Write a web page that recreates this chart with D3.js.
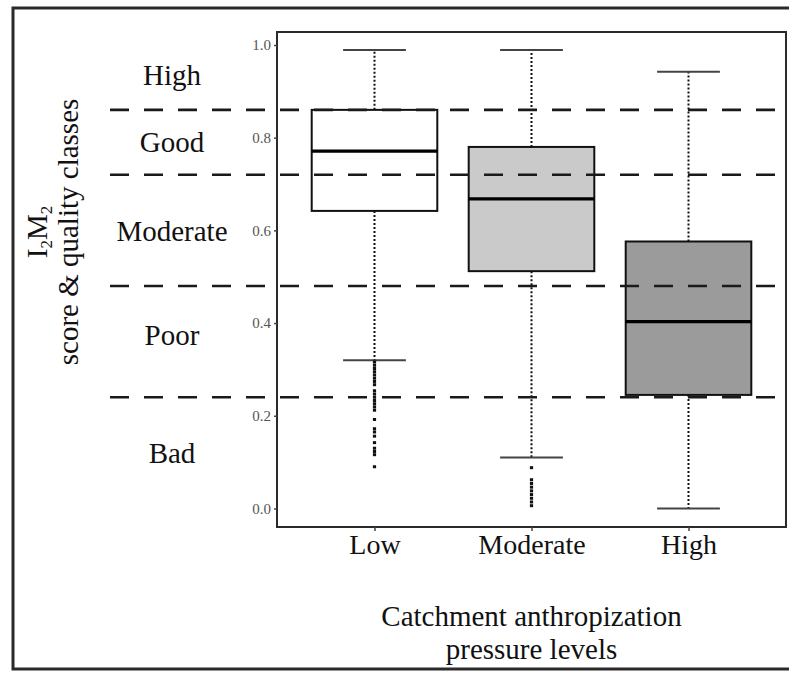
<!DOCTYPE html>
<html>
<head>
<meta charset="utf-8">
<script src="https://cdn.jsdelivr.net/npm/d3@7/dist/d3.min.js"></script>
<style>
  html, body { margin: 0; padding: 0; background: #fff; }
  svg { display: block; }
  text { font-family: "Liberation Serif", "Times New Roman", serif; fill: #111; }
</style>
</head>
<body>
<svg id="chart" width="789" height="675"></svg>
<script>
// Pressure levels on the x axis
const categories = ["Low", "Moderate", "High"];
// Box fills per level
const boxFills = ["#ffffff", "#cacaca", "#9b9b9b"];
// Five-number summaries per level
const whiskerLow  = [0.32, 0.11, 0.0];
const q1          = [0.642, 0.512, 0.245];
const medians     = [0.771, 0.668, 0.403];
const q3          = [0.860, 0.780, 0.576];
const whiskerHigh = [0.989, 0.989, 0.942];
// Outlying sites per level
const outliersLow = [0.316, 0.309, 0.302, 0.295, 0.288, 0.281, 0.274, 0.267, 0.254,
  0.247, 0.240, 0.233, 0.226, 0.219, 0.212, 0.192, 0.172, 0.165, 0.156, 0.142, 0.130,
  0.123, 0.116, 0.090];
const outliersModerate = [0.088, 0.062, 0.054, 0.046, 0.038, 0.030, 0.022, 0.014, 0.006];
const outliersHigh = [];
// Ecological quality class boundaries and labels
const classBounds = [0.86, 0.72, 0.48, 0.24];
const classNames = ["High", "Good", "Moderate", "Poor", "Bad"];
const classLabelAt = [0.935, 0.79, 0.60, 0.374, 0.119];
// Y axis ticks
const yTicks = [0.0, 0.2, 0.4, 0.6, 0.8, 1.0];

const svg = d3.select("#chart");
const panel = { left: 277, right: 786, top: 32, bottom: 527 };

const x = d3.scalePoint().domain(categories)
  .range([panel.left, panel.right]).padding(0.621);
const step = x.step();
const boxW = step * 0.8;
const capW = boxW / 2;
const y = d3.scaleLinear().domain([-0.04, 1.028]).range([panel.bottom, panel.top]);

// Outer figure frame (left, top, bottom edges)
svg.append("path")
  .attr("d", "M 800 8 L 13 8 L 13 669 L 800 669")
  .attr("fill", "none").attr("stroke", "#2a2a2a").attr("stroke-width", 3);

const stats = categories.map((c, i) => ({
  cat: c, fill: boxFills[i], lo: whiskerLow[i], q1: q1[i], med: medians[i],
  q3: q3[i], hi: whiskerHigh[i],
  out: [outliersLow, outliersModerate, outliersHigh][i]
}));

const g = svg.append("g");

// Whiskers (dotted stems)
g.selectAll("line.stem-up").data(stats).join("line")
  .attr("x1", d => x(d.cat)).attr("x2", d => x(d.cat))
  .attr("y1", d => y(d.q3)).attr("y2", d => y(d.hi))
  .attr("stroke", "#111").attr("stroke-width", 2).attr("stroke-dasharray", "2,2");
g.selectAll("line.stem-down").data(stats).join("line")
  .attr("x1", d => x(d.cat)).attr("x2", d => x(d.cat))
  .attr("y1", d => y(d.q1)).attr("y2", d => y(d.lo))
  .attr("stroke", "#111").attr("stroke-width", 2).attr("stroke-dasharray", "2,2");

// Whisker caps
["hi", "lo"].forEach(k => {
  g.selectAll("line.cap-" + k).data(stats).join("line")
    .attr("x1", d => x(d.cat) - capW / 2).attr("x2", d => x(d.cat) + capW / 2)
    .attr("y1", d => y(d[k])).attr("y2", d => y(d[k]))
    .attr("stroke", "#444").attr("stroke-width", 2);
});

// Boxes
g.selectAll("rect.box").data(stats).join("rect")
  .attr("x", d => x(d.cat) - boxW / 2).attr("width", boxW)
  .attr("y", d => y(d.q3)).attr("height", d => y(d.q1) - y(d.q3))
  .attr("fill", d => d.fill).attr("stroke", "#111").attr("stroke-width", 2);

// Medians
g.selectAll("line.median").data(stats).join("line")
  .attr("x1", d => x(d.cat) - boxW / 2).attr("x2", d => x(d.cat) + boxW / 2)
  .attr("y1", d => y(d.med)).attr("y2", d => y(d.med))
  .attr("stroke", "#000").attr("stroke-width", 3.2);

// Outliers
stats.forEach(d => {
  g.selectAll(null).data(d.out).join("rect")
    .attr("x", x(d.cat) - 1.6).attr("width", 3.2)
    .attr("y", v => y(v) - 1.5).attr("height", 3)
    .attr("fill", "#111");
});

// Quality class boundaries
svg.append("g").selectAll("line").data(classBounds).join("line")
  .attr("x1", 110).attr("x2", panel.right)
  .attr("y1", d => y(d)).attr("y2", d => y(d))
  .attr("stroke", "#1a1a1a").attr("stroke-width", 2.6)
  .attr("stroke-dasharray", "19,15");

// Quality class labels
svg.append("g").selectAll("text").data(classNames).join("text")
  .attr("x", 172).attr("y", (d, i) => y(classLabelAt[i]))
  .attr("dy", "0.35em").attr("text-anchor", "middle")
  .attr("font-size", 29).text(d => d);

// Panel border
svg.append("rect")
  .attr("x", panel.left).attr("y", panel.top)
  .attr("width", panel.right - panel.left).attr("height", panel.bottom - panel.top)
  .attr("fill", "none").attr("stroke", "#2a2a2a").attr("stroke-width", 2);

// Y axis
const yAxis = svg.append("g").attr("transform", `translate(${panel.left},0)`)
  .call(d3.axisLeft(y).tickValues(yTicks).tickFormat(d3.format(".1f"))
    .tickSize(3).tickPadding(3));
yAxis.select(".domain").remove();
yAxis.selectAll(".tick line").attr("stroke", "#444").attr("stroke-width", 1.5);
yAxis.selectAll(".tick text")
  .attr("font-family", "Liberation Serif, serif").attr("font-size", 15)
  .style("fill", "#555");

// X axis
const xAxis = svg.append("g").attr("transform", `translate(0,${panel.bottom})`)
  .call(d3.axisBottom(x).tickSize(4).tickPadding(6));
xAxis.select(".domain").remove();
xAxis.selectAll(".tick line").attr("stroke", "#444").attr("stroke-width", 1.5);
xAxis.selectAll(".tick text")
  .attr("font-family", "Liberation Serif, serif").attr("font-size", 28)
  .attr("dy", 0).attr("y", 27)
  .style("fill", "#111");

// X axis title
const xt = svg.append("text").attr("text-anchor", "middle").attr("font-size", 29);
xt.append("tspan").attr("x", (panel.left + panel.right) / 2).attr("y", 626)
  .text("Catchment anthropization");
xt.append("tspan").attr("x", (panel.left + panel.right) / 2).attr("y", 659)
  .text("pressure levels");

// Y axis title
const yt = svg.append("text").attr("text-anchor", "middle").attr("font-size", 29)
  .attr("transform", "translate(0,232) rotate(-90)");
const l1 = yt.append("tspan").attr("x", 0).attr("y", 47);
l1.append("tspan").text("I");
l1.append("tspan").attr("font-size", 17).attr("dy", 5).text("2");
l1.append("tspan").attr("dy", -5).text("M");
l1.append("tspan").attr("font-size", 17).attr("dy", 5).text("2");
yt.append("tspan").attr("x", 0).attr("y", 78).text("score & quality classes");
</script>
</body>
</html>
